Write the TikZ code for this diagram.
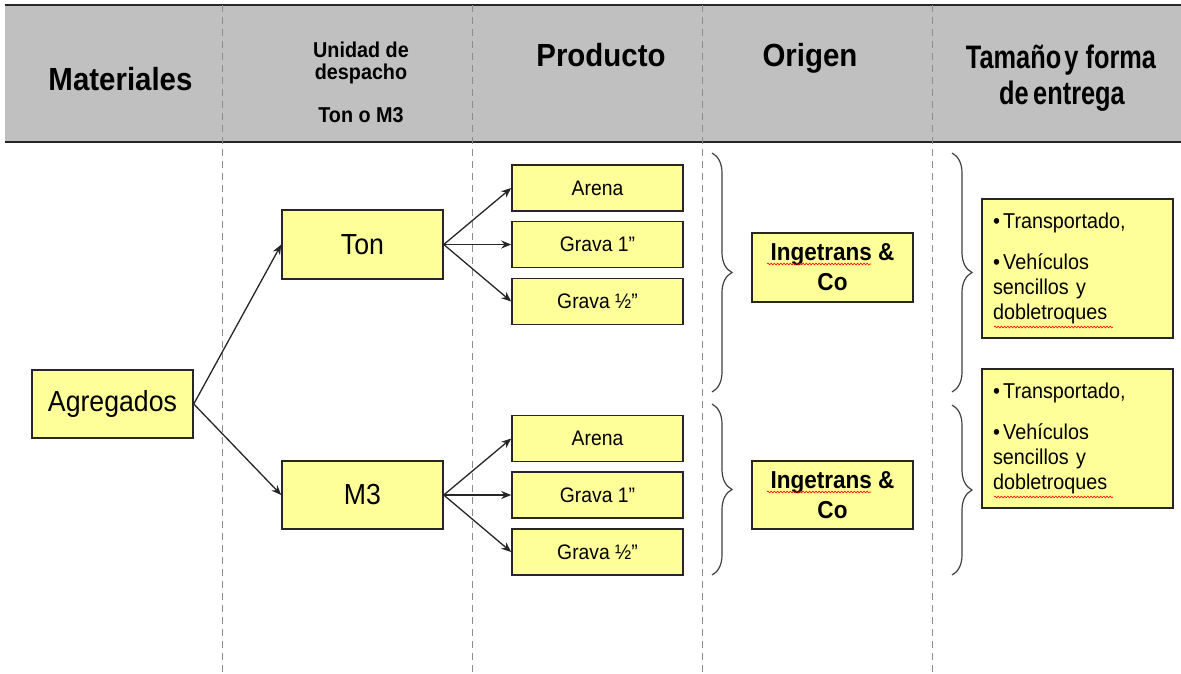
\documentclass[tikz,border=0pt]{standalone}
\usepackage{fontspec}
\setmainfont{Liberation Sans}[FakeStretch=0.92]
\newfontfamily\narrowfont{Liberation Sans}[FakeStretch=0.78]
\usetikzlibrary{arrows.meta,decorations.pathreplacing,decorations.pathmorphing}
\definecolor{boxfill}{HTML}{FFFF99}
\definecolor{headfill}{HTML}{C0C0C0}
\definecolor{rulegray}{HTML}{8C8C8C}
\definecolor{bracegray}{HTML}{404040}
\newcommand{\fsz}[1]{\fontsize{#1}{#1}\selectfont}
\begin{document}
\begin{tikzpicture}[x=1pt,y=-1pt,
  box/.style={draw=black!85, line width=1.5pt, fill=boxfill, inner sep=0pt, align=center},
  bigbox/.style={box, minimum width=161pt, font=\fsz{29}},
  prodbox/.style={box, minimum width=171pt, minimum height=46pt, font=\fsz{21}},
  origbox/.style={box, minimum width=161pt, font=\bfseries\fontsize{24.5}{30}\selectfont},
  listbox/.style={box, minimum width=191pt, minimum height=139pt, text width=169pt,
    align=left, font=\fontsize{21.5}{25}\selectfont},
  arr/.style={draw=black!85, line width=1.3pt, -{Stealth[length=10pt,width=8pt]}},
  colrule/.style={draw=rulegray, line width=0.8pt, dash pattern=on 7pt off 5pt},
  curly/.style={draw=bracegray, line width=1.2pt, decorate, decoration={brace, amplitude=20pt}},
  squiggle/.style={draw=red, line width=0.6pt, decorate, decoration={snake, segment length=3.2pt, amplitude=0.9pt}},
  head/.style={font=\bfseries\fsz{32}, anchor=base, inner sep=0pt},
  subhead/.style={font=\bfseries\fsz{21.5}, anchor=base, inner sep=0pt},
  narrowhead/.style={font=\narrowfont\bfseries\fsz{32.5}, anchor=base, inner sep=0pt}
]
\useasboundingbox (0,0) rectangle (1181,673);

% header band
\fill[headfill] (5,5) rectangle (1181,142);
\draw[black!85, line width=1.3pt] (5,5) -- (1181,5);
\draw[black!85, line width=1.8pt] (5,142) -- (1181,142);

% column separators
\foreach \cx in {222,472,702,932}
  \draw[colrule] (\cx,5) -- (\cx,673);

% header texts
\node[head] (hMat) at (120.5,90) {Materiales};
\node[subhead] (hUni1) at (361,57) {Unidad de};
\node[subhead] (hUni2) at (361,79) {despacho};
\node[subhead] (hUni3) at (361,122) {Ton o M3};
\node[head] (hProd) at (601,66) {Producto};
\node[head] (hOri) at (810,66) {Origen};
\node[narrowhead] (hTam1) at (1061,68) {Tamaño\hspace{-0.12em} y forma};
\node[narrowhead] (hTam2) at (1062,104) {de\hspace{-0.08em} entrega};

% tree boxes
\node[bigbox, minimum height=68pt] (agr) at (112.5,404) {Agregados};
\node[bigbox, minimum height=69pt] (ton) at (362.5,244.5) {Ton};
\node[bigbox, minimum height=68pt] (m3) at (362.5,495) {M3};

\node[prodbox] (ta) at (597.5,188) {Arena};
\node[prodbox] (tg1) at (597.5,244.5) {Grava 1”};
\node[prodbox] (tg2) at (597.5,301.5) {Grava ½”};
\node[prodbox] (ma) at (597.5,438.5) {Arena};
\node[prodbox] (mg1) at (597.5,495) {Grava 1”};
\node[prodbox] (mg2) at (597.5,552) {Grava ½”};

% connectors
\draw[arr] (agr.east) -- (ton.west);
\draw[arr] (agr.east) -- (m3.west);
\foreach \p in {ta,tg1,tg2} \draw[arr] (ton.east) -- (\p.west);
\foreach \p in {ma,mg1,mg2} \draw[arr] (m3.east) -- (\p.west);

% origin column
\draw[curly] (712,153) -- (712,392);
\draw[curly] (712,404) -- (712,575);
\node[origbox, minimum height=69pt] (ori1) at (832.5,267.5) {Ingetrans \&\\Co};
\node[origbox, minimum height=68pt] (ori2) at (832.5,495) {Ingetrans \&\\Co};
\draw[squiggle] (767,264) -- (871,264);
\draw[squiggle] (767,492) -- (871,492);

% delivery column
\draw[curly] (952,153) -- (952,392);
\draw[curly] (952,405) -- (952,575);
\node[listbox] (ent1) at (1077.5,268.5) {•\hspace{0.15em}Transportado,\\[16pt]•\hspace{0.15em}Vehículos\\sencillos y\\dobletroques};
\node[listbox] (ent2) at (1077.5,438.5) {•\hspace{0.15em}Transportado,\\[16pt]•\hspace{0.15em}Vehículos\\sencillos y\\dobletroques};
\draw[squiggle] (994,327) -- (1113,327);
\draw[squiggle] (994,497) -- (1113,497);
\end{tikzpicture}
\end{document}
